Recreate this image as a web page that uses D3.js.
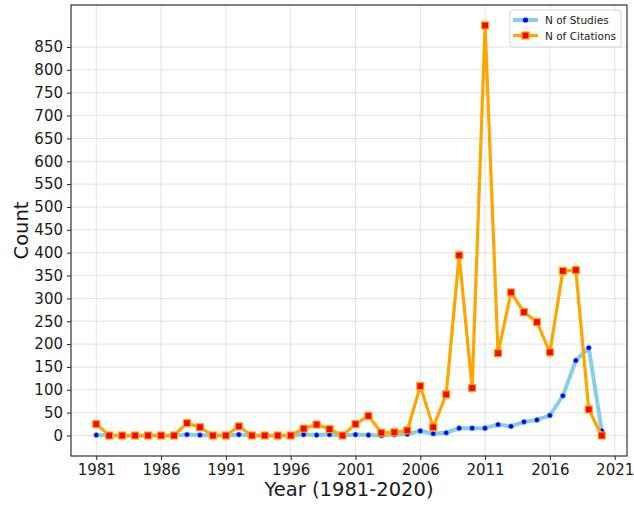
<!DOCTYPE html>
<html>
<head>
<meta charset="utf-8">
<script src="https://cdn.jsdelivr.net/npm/d3@7"></script>
<style>
  body { margin: 0; background: #fff; }
  svg { font-family: "DejaVu Sans", sans-serif; }
</style>
</head>
<body>
<div id="chart"></div>
<script>
// Data
const years = d3.range(1981, 2021);
const studies = [1, 0, 0, 0, 0, 0, 0, 2, 1, 0,
                 0, 2, 0, 0, 0, 0, 2, 1, 2, 0,
                 2, 1, 0, 2, 3, 10, 4, 6, 16, 16,
                 16, 24, 20, 30, 34, 44, 87, 164, 192, 10];
const citations = [25, 0, 0, 0, 0, 0, 0, 27, 18, 0,
                   0, 20, 0, 0, 0, 0, 15, 24, 14, 0,
                   25, 43, 6, 7, 11, 108, 18, 90, 394, 104,
                   897, 180, 313, 270, 248, 182, 360, 362, 57, 0];
const xTicks = d3.range(1981, 2022, 5);
const yTicks = d3.range(0, 851, 50);
const seriesNames = ['N of Studies', 'N of Citations'];

const width = 634, height = 506;
const margin = { top: 5, right: 7, bottom: 50, left: 71 };
const innerW = width - margin.left - margin.right;
const innerH = height - margin.top - margin.bottom;

const svg = d3.select('#chart').append('svg')
  .attr('width', width)
  .attr('height', height);

// matplotlib-like 5% margins around the data
const x = d3.scaleLinear()
  .domain([1981 - 39 * 0.05, 2020 + 39 * 0.05])
  .range([margin.left, margin.left + innerW]);
const yMax = d3.max(citations);
const y = d3.scaleLinear()
  .domain([-yMax * 0.05, yMax * 1.05])
  .range([margin.top + innerH, margin.top]);

// Grid
const grid = svg.append('g').attr('class', 'grid');
grid.selectAll('.vgrid')
  .data(xTicks)
  .join('line')
  .attr('x1', d => x(d)).attr('x2', d => x(d))
  .attr('y1', margin.top).attr('y2', margin.top + innerH)
  .attr('stroke', '#b0b0b0').attr('stroke-opacity', 0.35).attr('stroke-width', 1);
grid.selectAll('.hgrid')
  .data(yTicks)
  .join('line')
  .attr('x1', margin.left).attr('x2', margin.left + innerW)
  .attr('y1', d => y(d)).attr('y2', d => y(d))
  .attr('stroke', '#b0b0b0').attr('stroke-opacity', 0.35).attr('stroke-width', 1);

// Axes
const xAxis = svg.append('g')
  .attr('transform', `translate(0, ${margin.top + innerH})`)
  .call(d3.axisBottom(x).tickValues(xTicks).tickFormat(d3.format('d')).tickSize(4).tickPadding(4));
const yAxis = svg.append('g')
  .attr('transform', `translate(${margin.left}, 0)`)
  .call(d3.axisLeft(y).tickValues(yTicks).tickSize(4).tickPadding(4));

[xAxis, yAxis].forEach(a => {
  a.select('.domain').remove();
  a.selectAll('.tick line').attr('stroke', '#222').attr('stroke-width', 1);
  a.selectAll('text')
    .attr('fill', '#1a1a1a')
    .attr('font-size', '15px')
    .attr('font-family', '"DejaVu Sans", sans-serif');
});

// Frame
svg.append('rect')
  .attr('x', margin.left).attr('y', margin.top)
  .attr('width', innerW).attr('height', innerH)
  .attr('fill', 'none')
  .attr('stroke', '#333')
  .attr('stroke-width', 1.2);

// Axis labels
svg.append('text')
  .attr('x', margin.left + innerW / 2)
  .attr('y', 496)
  .attr('text-anchor', 'middle')
  .attr('font-size', '19.5px')
  .attr('fill', '#1a1a1a')
  .text('Year (1981-2020)');
svg.append('text')
  .attr('transform', `translate(28, ${margin.top + innerH / 2}) rotate(-90)`)
  .attr('text-anchor', 'middle')
  .attr('font-size', '19.5px')
  .attr('fill', '#1a1a1a')
  .text('Count');

const plot = svg.append('g');
const line = d3.line().x((d, i) => x(years[i])).y(d => y(d));

// Studies series
plot.append('path')
  .datum(studies)
  .attr('d', line)
  .attr('fill', 'none')
  .attr('stroke', '#87ceeb')
  .attr('stroke-width', 4)
  .attr('stroke-linejoin', 'round');
plot.selectAll('.study-dot')
  .data(studies)
  .join('circle')
  .attr('cx', (d, i) => x(years[i]))
  .attr('cy', d => y(d))
  .attr('r', 2.6)
  .attr('fill', '#0000ff')
  .attr('stroke', '#87ceeb')
  .attr('stroke-width', 0.6);

// Citations series
plot.append('path')
  .datum(citations)
  .attr('d', line)
  .attr('fill', 'none')
  .attr('stroke', '#ffa500')
  .attr('stroke-width', 3.2)
  .attr('stroke-linejoin', 'miter');
plot.selectAll('.cite-dot')
  .data(citations)
  .join('rect')
  .attr('x', (d, i) => x(years[i]) - 3.5)
  .attr('y', d => y(d) - 3.5)
  .attr('width', 7)
  .attr('height', 7)
  .attr('fill', '#ff0000')
  .attr('stroke', '#ffa500')
  .attr('stroke-width', 1.2);

// Legend
const legend = svg.append('g').attr('transform', 'translate(510, 10)');
legend.append('rect')
  .attr('width', 111).attr('height', 37)
  .attr('rx', 3)
  .attr('fill', '#fff').attr('fill-opacity', 0.8)
  .attr('stroke', '#d6d6d6');
seriesNames.forEach((name, i) => {
  const row = legend.append('g').attr('transform', `translate(0, ${10 + i * 15.5})`);
  row.append('line')
    .attr('x1', 3).attr('x2', 28)
    .attr('stroke', i === 0 ? '#87ceeb' : '#ffa500')
    .attr('stroke-width', i === 0 ? 4 : 3.2);
  if (i === 0) {
    row.append('circle').attr('cx', 15.5).attr('r', 2.6).attr('fill', '#0000ff');
  } else {
    row.append('rect').attr('x', 12).attr('y', -3.5).attr('width', 7).attr('height', 7)
      .attr('fill', '#ff0000').attr('stroke', '#ffa500').attr('stroke-width', 1.2);
  }
  row.append('text')
    .attr('x', 35).attr('y', 4)
    .attr('font-size', '10.5px')
    .attr('fill', '#1a1a1a')
    .text(name);
});
</script>
</body>
</html>
